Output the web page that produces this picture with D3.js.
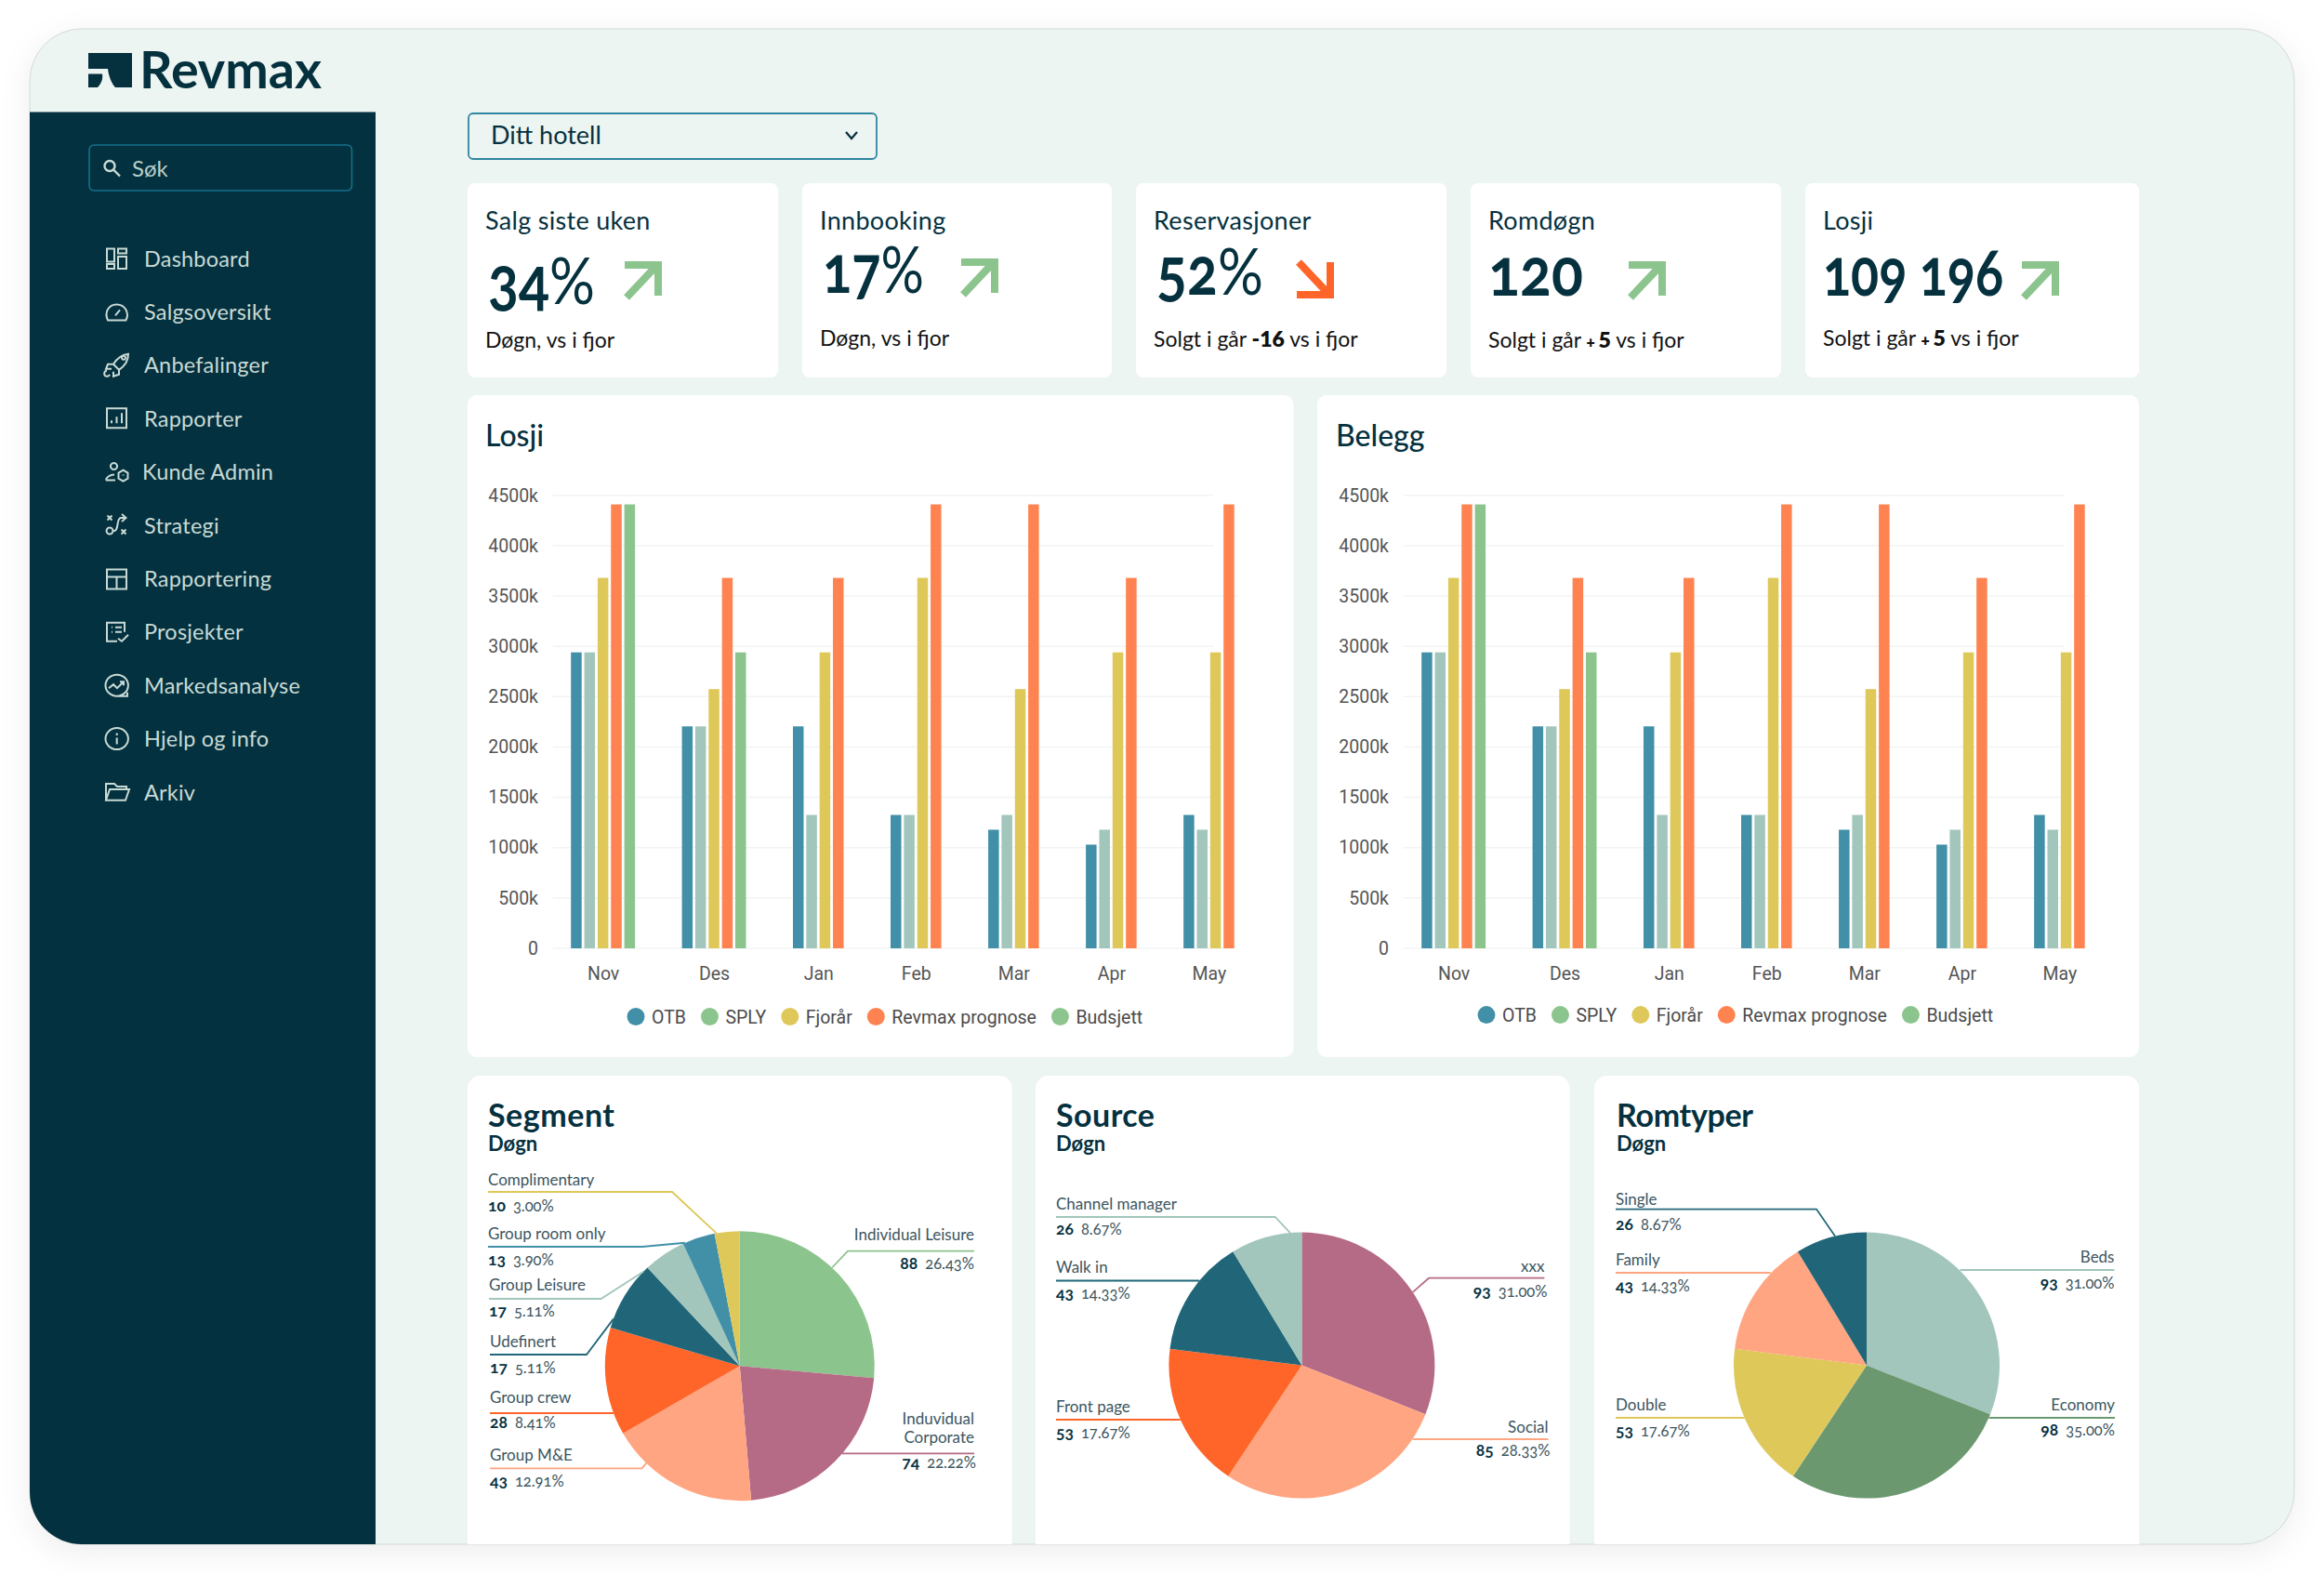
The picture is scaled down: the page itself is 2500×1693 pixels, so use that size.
<!DOCTYPE html>
<html lang="no">
<head>
<meta charset="UTF-8">
<title>Revmax dashboard</title>
<script src="https://d3js.org/d3.v7.min.js"></script>
<style>
  html, body { margin: 0; background: #fff; }
  svg { display: block; }
  text { font-family: Lato, sans-serif; }
  .num { font-variant-numeric: oldstyle-nums; font-feature-settings: "onum" 1; }
  .axis text { font-family: Roboto, sans-serif; font-size: 19.5px; fill: #555; }
  .axis line, .axis path { display: none; }
  .legend text { font-family: Roboto, sans-serif; font-size: 19.5px; fill: #4b4b4b; }
</style>
</head>
<body>
<div id="chart"></div>
<script>
// data
const menuItems = ["Dashboard", "Salgsoversikt", "Anbefalinger", "Rapporter", "Kunde Admin", "Strategi", "Rapportering", "Prosjekter", "Markedsanalyse", "Hjelp og info", "Arkiv"];

const kpiTitles = ["Salg siste uken", "Innbooking", "Reservasjoner", "Romdøgn", "Losji"];
const kpiValues = ["34%", "17%", "52%", "120", "109 196"];
const kpiTrend = ["up", "up", "down", "up", "up"];
const kpiNotes = [["Døgn, vs i fjor"], ["Døgn, vs i fjor"], ["Solgt i går ", "-16", " vs i fjor"], ["Solgt i går ", "+ 5", " vs i fjor"], ["Solgt i går ", "+ 5", " vs i fjor"]];

const months = ["Nov", "Des", "Jan", "Feb", "Mar", "Apr", "May"];
const yTicks = [0, 500, 1000, 1500, 2000, 2500, 3000, 3500, 4000, 4500];
const legendNames = ["OTB", "SPLY", "Fjorår", "Revmax prognose", "Budsjett"];
const otb = [2940, 2205, 2205, 1325, 1178, 1030, 1325];
const sply = [2940, 2205, 1325, 1325, 1325, 1178, 1178];
const fjoraar = [3680, 2575, 2940, 3680, 2575, 2940, 2940];
const prognose = [4410, 3680, 3680, 4410, 4410, 3680, 4410];
const budsjett = [4410, 2940, null, null, null, null, null];

const segmentSlices = [88, 74, 60, 43, 28, 17, 13, 10];
const segmentNames = [["Individual Leisure"], ["Induvidual", "Corporate"], ["Group M&E"], ["Group crew"], ["Udefinert"], ["Group Leisure"], ["Group room only"], ["Complimentary"]];
const segmentCounts = ["88", "74", "43", "28", "17", "17", "13", "10"];
const segmentPct = ["26.43%", "22.22%", "12.91%", "8.41%", "5.11%", "5.11%", "3.90%", "3.00%"];

const sourceSlices = [93, 85, 53, 43, 26];
const sourceNames = [["xxx"], ["Social"], ["Front page"], ["Walk in"], ["Channel manager"]];
const sourceCounts = ["93", "85", "53", "43", "26"];
const sourcePct = ["31.00%", "28.33%", "17.67%", "14.33%", "8.67%"];

const roomSlices = [93, 85, 53, 43, 26];
const roomNames = [["Beds"], ["Economy"], ["Double"], ["Family"], ["Single"]];
const roomCounts = ["93", "98", "53", "43", "26"];
const roomPct = ["31.00%", "35.00%", "17.67%", "14.33%", "8.67%"];

// colours
const ink = "#05313f";
const teal = "#4190a8", paleTeal = "#a2c5bc", green = "#8cc48e", yellow = "#dec85a", coral = "#ff8350";
const rose = "#b56a85", peach = "#ffa581", orange = "#ff6529", deepTeal = "#216678", sage = "#6c9870";
const barColors = [teal, paleTeal, yellow, coral, green];
const legendColors = [teal, green, yellow, coral, green];

const svg = d3.select("#chart").append("svg").attr("width", 2500).attr("height", 1693);
const defs = svg.append("defs");
defs.append("clipPath").attr("id", "frameClip").append("rect")
  .attr("x", 32).attr("y", 31).attr("width", 2436).attr("height", 1630).attr("rx", 56);

// frame
svg.append("rect").attr("x", 32).attr("y", 31).attr("width", 2436).attr("height", 1630).attr("rx", 56)
  .attr("fill", "#edf5f2").attr("stroke", "#d3d9d8").style("filter", "drop-shadow(0 8px 16px rgba(0,0,0,.07))");
const page = svg.append("g").attr("clip-path", "url(#frameClip)");

// logo
page.append("path").attr("fill", ink).attr("d", "M95 57H142V94H124C120 90 117 82 116 74H95ZM95 79.500H110C111 85 109 90 105 94H95Z");
page.append("text").attr("x", 150).attr("y", 95).attr("font-size", 56).attr("font-weight", 700).attr("textLength", 196).attr("lengthAdjust", "spacingAndGlyphs").attr("fill", ink).text("Revmax");

// sidebar
page.append("rect").attr("x", 32).attr("y", 120.5).attr("width", 372).attr("height", 1560).attr("fill", "#04313f");
page.append("rect").attr("x", 96).attr("y", 156).attr("width", 282.5).attr("height", 49).attr("rx", 5)
  .attr("fill", "none").attr("stroke", "#13708c").attr("stroke-width", 1.6);
const searchIcon = page.append("g").attr("fill", "none").attr("stroke", "#c8dad5").attr("stroke-width", 2.4);
searchIcon.append("circle").attr("cx", 118).attr("cy", 178.5).attr("r", 5.5);
searchIcon.append("line").attr("x1", 122).attr("y1", 182.5).attr("x2", 129).attr("y2", 189.5);
page.append("text").attr("x", 142).attr("y", 189.5).attr("font-size", 24).attr("fill", "#b9d0ca").text("Søk");

const menuY = d3.scalePoint().domain(menuItems).range([278, 852]);
const iconPaths = [
  "M2 .500h8v14H2zM2 17h8v5H2zM14 .500h9v5h-9zM14 9h9v13h-9z",
  "M3 20h19.500c4-8-1-17-10-17S-1 12 3 20zM11 15l5-6",
  "M9 10C13 3 18 0 25-1c0 7-4 13-10 17zM9 10H3L1 15h6M15 16v5l-6 2v-5M2 17a3 3 0 1 0 3 4M20 5a2 2 0 1 0-.01 0",
  "M2 0h21v21H2zM7 16v-3M12.500 16V9M18 16V5",
  "M9.500 1.500a3.500 3.500 0 1 1-.01 0M1 20h10M1 20c0-3 4-6 9-6M19.500 9l5 3v6l-5 3-5-3v-6zM19.500 14v1",
  "M2.500.500l5 5M7.500.500l-5 5M18-1l4.500 4-4.500 4M22 3h-5c-5 0-2 14-7 14H9M5 13.500a3.500 3.500 0 1 0 .01 0M17.500 15.500l5 5M22.500 15.500l-5 5",
  "M2 1h21v21H2zM2 9h21M12.500 9v13",
  "M21 11V1H2v20h11M7 6h1M11 6h7M7 11h1M11 11h7M14 18l4 3 7-7",
  "M.500 11a12.200 11.500 0 1 1 24.400 0 12.200 11.500 0 0 1-24.400 0zM4 14l5-4 4 4 7-7M16 7h4v4M13 22.500h11v-4",
  "M.500 11a12.200 11.500 0 1 0 24.400 0 12.200 11.500 0 1 0-24.400 0zM12.700 10v7M12.700 5v2.500",
  "M1 19.700V2h9l3 3h10v3M1 19.700h21l4-11.700H5z"
];
const menu = page.append("g").selectAll("g").data(menuItems).join("g")
  .attr("transform", d => `translate(0,${menuY(d)})`);
menu.append("path").attr("transform", "translate(113,-11)").attr("d", (d, i) => iconPaths[i])
  .attr("fill", "none").attr("stroke", "#c8dad5").attr("stroke-width", 2);
menu.append("text").attr("x", (d, i) => i === 4 ? 153 : 155).attr("y", 8.5).attr("font-size", 23.5).attr("letter-spacing", 0.2)
  .attr("fill", "#c8dad5").text(d => d);

// hotel picker
page.append("rect").attr("x", 504).attr("y", 122).attr("width", 439).attr("height", 49).attr("rx", 5)
  .attr("fill", "none").attr("stroke", "#2f86a0").attr("stroke-width", 1.8);
page.append("text").attr("x", 528).attr("y", 155).attr("font-size", 27).attr("fill", ink).text("Ditt hotell");
page.append("path").attr("d", "M910 142l6 7 6-7").attr("fill", "none").attr("stroke", ink).attr("stroke-width", 2.2);

// kpi cards
const kpiX = [503, 863, 1222, 1582, 1942];
const kpiW = [334, 333, 334, 334, 359];
const kpiValueX = [525, 885, 1244, 1601, 1961];
const kpiValueY = [327, 315, 317, 318, 318];
const kpiValueW = [115, 109, 115, 102, 194];
const kpiNoteY = [374, 372, 373, 374, 372];
const kpiArrowX = [671, 1033, 1394, 1751, 2174];
const kpiArrowY = [281, 278, 281, 281, 281];
kpiTitles.forEach((title, i) => {
  const g = page.append("g");
  g.append("rect").attr("x", kpiX[i]).attr("y", 197).attr("width", kpiW[i]).attr("height", 209).attr("rx", 8).attr("fill", "#fff");
  g.append("text").attr("x", kpiX[i] + 19).attr("y", 247).attr("font-size", 27).attr("letter-spacing", 0.3).attr("fill", ink).text(title);

  // digits are bold, the percent sign is thin; squeeze the whole value to the width
  const value = g.append("text").attr("class", "num").attr("font-size", 70).attr("fill", ink);
  value.append("tspan").attr("font-weight", 700).text(kpiValues[i].replace("%", ""));
  if (kpiValues[i].endsWith("%")) value.append("tspan").attr("font-weight", 400).text("%");
  const squeeze = kpiValueW[i] / value.node().getComputedTextLength();
  value.attr("transform", `translate(${kpiValueX[i]},${kpiValueY[i]}) scale(${squeeze},1)`);

  const note = g.append("text").attr("x", kpiX[i] + 19).attr("y", kpiNoteY[i]).attr("font-size", 23).attr("fill", "#111");
  kpiNotes[i].forEach((part, j) => {
    if (part.startsWith("+")) {
      note.append("tspan").attr("font-weight", 800).attr("font-size", 16).text("+ ");
      note.append("tspan").attr("font-weight", 800).text(part.slice(2));
    } else {
      note.append("tspan").attr("font-weight", j === 1 ? 800 : 400).text(part);
    }
  });

  const up = kpiTrend[i] === "up";
  g.append("path").attr("transform", `translate(${kpiArrowX[i]},${kpiArrowY[i]})`)
    .attr("d", up ? "M3 39L36 4M1 4H37V37" : "M3 1L36 36M1 36H37V1")
    .attr("fill", "none").attr("stroke", up ? green : orange).attr("stroke-width", 8);
});

// bar charts
const seriesList = [otb, sply, fjoraar, prognose, budsjett];
const gapSlots = 3.32;
function barChart(title, dx, legendY) {
  const g = page.append("g").attr("transform", `translate(${dx},0)`);
  g.append("rect").attr("x", dx ? 502 : 503).attr("y", 425).attr("width", dx ? 884 : 888.5).attr("height", 712).attr("rx", 10).attr("fill", "#fff");
  g.append("text").attr("x", 522).attr("y", 480).attr("font-size", 32).attr("font-weight", 500).attr("fill", ink).text(title);

  const y = d3.scaleLinear().domain([0, 4500]).range([1020, 532.8]);
  const groupSizes = months.map((m, i) => seriesList.filter(s => s[i] !== null).length);
  const groupStart = d3.cumsum([0].concat(groupSizes.slice(0, -1)).map((n, i) => n + (i ? gapSlots : 0)));
  const totalSlots = d3.sum(groupSizes) + gapSlots * (months.length - 1);
  const slot = d3.scaleLinear().domain([0, totalSlots]).range([614.2, 614.2 + totalSlots * 14.35]);
  const barW = 11.5;

  g.append("g").selectAll("line").data(yTicks).join("line")
    .attr("x1", 594.7).attr("x2", d => d === 0 ? 1327 : d === 3500 ? 1332 : 1305)
    .attr("y1", d => y(d)).attr("y2", d => y(d)).attr("stroke", "#f2f4f3").attr("stroke-width", 1.5);

  const bars = [];
  months.forEach((m, i) => {
    let n = 0;
    seriesList.forEach((s, k) => {
      if (s[i] !== null) bars.push({ pos: groupStart[i] + n++, value: s[i], color: barColors[k] });
    });
  });
  g.append("g").selectAll("rect").data(bars).join("rect")
    .attr("x", d => slot(d.pos)).attr("width", barW)
    .attr("y", d => y(d.value)).attr("height", d => y(0) - y(d.value)).attr("fill", d => d.color);

  g.append("g").attr("class", "axis").attr("transform", "translate(579,0)")
    .call(d3.axisLeft(y).tickValues(yTicks).tickFormat(d => d ? d + "k" : "0").tickSize(0).tickPadding(0));

  const centers = months.map((m, i) => slot(groupStart[i]) + (slot(groupSizes[i]) - slot(0) - 2.85) / 2);
  g.append("g").attr("class", "axis").attr("transform", "translate(0,1040)")
    .call(d3.axisBottom(d3.scaleOrdinal(months, centers)).tickSize(0).tickPadding(0));

  const legend = g.append("g").attr("class", "legend").attr("transform", `translate(684,${legendY})`);
  let lx = 0;
  legendNames.forEach((name, i) => {
    legend.append("circle").attr("cx", lx).attr("r", 9.5).attr("fill", legendColors[i]);
    const t = legend.append("text").attr("x", lx + 17).attr("dy", 7).text(name);
    lx += 17 + t.node().getComputedTextLength() + 25.5;
  });
}
barChart("Losji", 0, 1093.5);
barChart("Belegg", 915, 1091.6);

// pie charts
function pieChart(cfg) {
  const g = page.append("g");
  g.append("rect").attr("x", cfg.x).attr("y", 1157).attr("width", cfg.w).attr("height", 560).attr("rx", 14).attr("fill", "#fff");
  g.append("text").attr("x", cfg.tx).attr("y", 1212).attr("font-size", 34).attr("font-weight", 700).attr("textLength", cfg.titleW).attr("fill", ink).text(cfg.title);
  g.append("text").attr("x", cfg.tx).attr("y", 1238).attr("font-size", 22).attr("font-weight", 700).attr("fill", ink).text("Døgn");

  const pie = d3.pie().sort(null).value(d => d);
  const arc = d3.arc().innerRadius(0).outerRadius(cfg.r);
  const arcs = pie(cfg.slices);
  const chart = g.append("g").attr("transform", `translate(${cfg.cx},${cfg.cy})`);
  chart.selectAll("path").data(arcs).join("path").attr("d", arc).attr("fill", (d, i) => cfg.colors[i]);

  cfg.labels.forEach((lab, i) => {
    const color = cfg.colors[i];
    const [px, py] = d3.pointRadial(lab.angle * Math.PI / 180, cfg.r);
    const right = lab.side === "right";
    const anchor = right ? "end" : "start";
    const pts = lab.elbow === undefined
      ? [[lab.x, lab.lineY], [cfg.cx + px, lab.lineY]]
      : [[lab.x, lab.lineY], [lab.elbow, lab.lineY], [cfg.cx + px, cfg.cy + py]];
    g.append("path").attr("d", d3.line()(pts)).attr("fill", "none").attr("stroke", color).attr("stroke-width", 1.8);
    cfg.names[i].forEach((line, j) => {
      g.append("text").attr("x", lab.x).attr("y", lab.nameY[j]).attr("text-anchor", anchor)
        .attr("font-size", 17).attr("fill", "#3c5560").text(line);
    });
    const val = g.append("text").attr("class", "num").attr("x", lab.vx === undefined ? lab.x : lab.vx).attr("y", lab.valY).attr("text-anchor", anchor).attr("font-size", 16.5);
    val.append("tspan").attr("font-weight", 700).attr("font-size", 17.5).attr("fill", ink).text(cfg.counts[i]);
    val.append("tspan").attr("dx", 8).attr("fill", "#3c5560").text(cfg.pct[i]);
  });
}

pieChart({
  title: "Segment", titleW: 136, x: 503, w: 585.6, tx: 525, cx: 795.8, cy: 1469.2, r: 145,
  slices: segmentSlices, names: segmentNames, counts: segmentCounts, pct: segmentPct,
  colors: [green, rose, peach, orange, deepTeal, paleTeal, teal, yellow],
  labels: [
    { side: "right", x: 1048, nameY: [1333.5], lineY: 1345.6, elbow: 912, angle: 43.2, valY: 1365.4 },
    { side: "right", x: 1048, nameY: [1532, 1551.7], lineY: 1563.4, angle: 130.6, valY: 1579.4, vx: 1050 },
    { x: 527, nameY: [1570.7], lineY: 1579.4, elbow: 690.6, angle: 223.9, valY: 1598.8 },
    { x: 527, nameY: [1509], lineY: 1520, angle: 249.5, valY: 1536.4 },
    { x: 527, nameY: [1448.5], lineY: 1457, elbow: 631, angle: 290.4, valY: 1476.5 },
    { x: 526, nameY: [1388], lineY: 1397, elbow: 646.6, angle: 314.4, valY: 1416 },
    { x: 525, nameY: [1333], lineY: 1341, elbow: 691, angle: 336, valY: 1360.5 },
    { x: 525, nameY: [1275], lineY: 1282, elbow: 723, angle: 350, valY: 1302.7 }
  ]
});
pieChart({
  title: "Source", titleW: 106, x: 1114, w: 574.6, tx: 1136, cx: 1400.4, cy: 1468.6, r: 143,
  slices: sourceSlices, names: sourceNames, counts: sourceCounts, pct: sourcePct,
  colors: [rose, peach, orange, deepTeal, paleTeal],
  labels: [
    { side: "right", x: 1661.4, nameY: [1367.5], lineY: 1374.7, elbow: 1537, angle: 56.6, valY: 1395, vx: 1664.5 },
    { side: "right", x: 1665.6, nameY: [1540.6], lineY: 1548, angle: 123.6, valY: 1565.5, vx: 1667.5 },
    { x: 1136, nameY: [1519], lineY: 1527, angle: 246, valY: 1547 },
    { x: 1136, nameY: [1369], lineY: 1377.5, angle: 309.5, valY: 1396.5 },
    { x: 1136, nameY: [1301], lineY: 1309, elbow: 1371.7, angle: 355, valY: 1328 }
  ]
});
pieChart({
  title: "Romtyper", titleW: 147, x: 1715, w: 586, tx: 1739, cx: 2008, cy: 1468.6, r: 143,
  slices: roomSlices, names: roomNames, counts: roomCounts, pct: roomPct,
  colors: [paleTeal, sage, yellow, peach, deepTeal],
  labels: [
    { side: "right", x: 2274.5, nameY: [1357.8], lineY: 1366, angle: 44.7, valY: 1385.5 },
    { side: "right", x: 2275, nameY: [1517], lineY: 1525, angle: 113.2, valY: 1544 },
    { x: 1738, nameY: [1517], lineY: 1525, angle: 246.8, valY: 1545.4 },
    { x: 1738, nameY: [1361], lineY: 1369, angle: 313.8, valY: 1389 },
    { x: 1738, nameY: [1296], lineY: 1300.6, elbow: 1954, angle: 346.3, valY: 1323 }
  ]
});
</script>
</body>
</html>
